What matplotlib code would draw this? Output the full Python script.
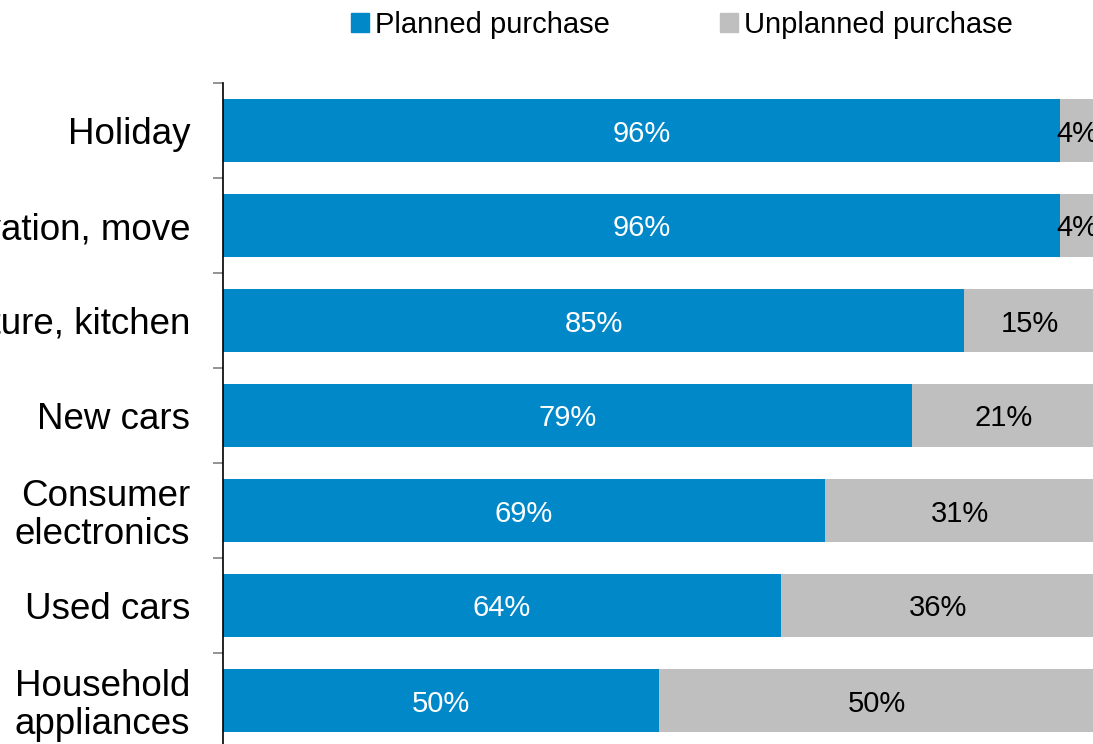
import matplotlib
matplotlib.use("Agg")
import matplotlib.pyplot as plt
from matplotlib.patches import Patch

plt.rcParams['font.family'] = ['Liberation Sans', 'DejaVu Sans']

categories = ['Holiday', 'Renovation, move', 'Furniture, kitchen', 'New cars',
              'Consumer\nelectronics', 'Used cars', 'Household\nappliances']
planned = [96, 96, 85, 79, 69, 64, 50]
unplanned = [4, 4, 15, 21, 31, 36, 50]

blue = '#0088C9'
grey = '#BFBFBF'

fig = plt.figure(figsize=(10.93, 7.44), dpi=100)
ax = fig.add_axes([223 / 1093, -4 / 744, 872 / 1093, 665 / 744])

y = list(range(len(categories)))
ax.barh(y, planned, height=0.66, color=blue)
ax.barh(y, unplanned, left=planned, height=0.66, color=grey)

for i in y:
    ax.text(planned[i] / 2, i, f'{planned[i]}%', ha='center', va='center_baseline',
            color='white', fontsize=21)
    ax.text(planned[i] + unplanned[i] / 2, i, f'{unplanned[i]}%', ha='center',
            va='center_baseline', color='black', fontsize=21)

ax.set_xlim(0, 100)
ax.set_ylim(len(categories) - 0.5, -0.5)
ax.set_yticks(y)
ax.set_yticklabels(categories, fontsize=26.5, linespacing=1.1)
ax.set_yticks([i - 0.5 for i in range(len(categories) + 1)], minor=True)
ax.tick_params(axis='y', which='major', length=0, pad=23.5)
ax.tick_params(axis='y', which='minor', length=7, width=1.2, color='#808080')
ax.set_xticks([])
for side in ['top', 'right', 'bottom']:
    ax.spines[side].set_visible(False)
ax.spines['left'].set_color('black')
ax.spines['left'].set_linewidth(1.2)

handles = [Patch(color=blue, label='Planned purchase'),
           Patch(color=grey, label='Unplanned purchase')]
fig.legend(handles=handles, loc='center', bbox_to_anchor=(682 / 1093, 1 - 25 / 744),
           ncol=2, frameon=False, fontsize=21, handlelength=0.6, handleheight=0.6,
           handletextpad=0.2, columnspacing=3.8, borderpad=0)

fig.savefig('out.png', dpi=100)
